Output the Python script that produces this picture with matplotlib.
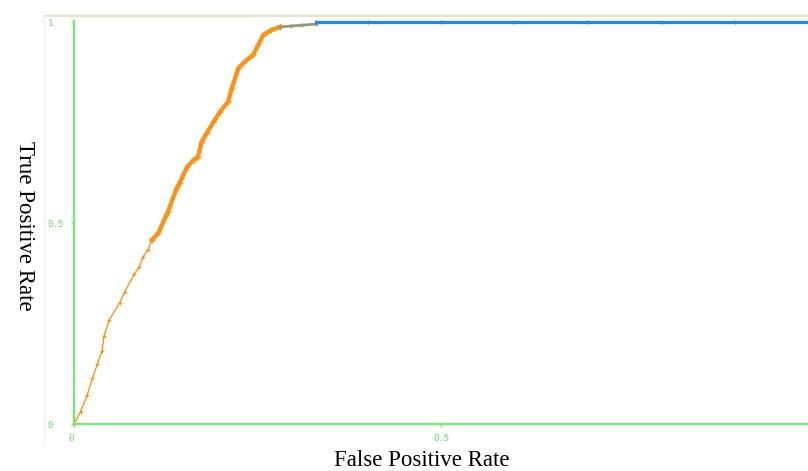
import matplotlib
matplotlib.use("Agg")
import matplotlib.pyplot as plt
from matplotlib.lines import Line2D

# ROC curve, three coloured pieces
fpr_low = [0.000, 0.009, 0.018, 0.025, 0.032, 0.038, 0.041, 0.048, 0.062, 0.069,
           0.082, 0.089, 0.094, 0.101, 0.106]
tpr_low = [0.000, 0.031, 0.072, 0.114, 0.149, 0.182, 0.219, 0.259, 0.301, 0.328,
           0.373, 0.391, 0.416, 0.433, 0.458]

fpr_high = [0.106, 0.115, 0.126, 0.128, 0.140, 0.144, 0.154, 0.163, 0.169, 0.174,
            0.181, 0.190, 0.199, 0.210, 0.215, 0.224, 0.235, 0.244, 0.251, 0.258,
            0.269, 0.281]
tpr_high = [0.458, 0.475, 0.520, 0.528, 0.587, 0.600, 0.639, 0.657, 0.665, 0.702,
            0.724, 0.751, 0.777, 0.802, 0.835, 0.885, 0.905, 0.918, 0.943, 0.968,
            0.980, 0.988]

fpr_mid = [0.281, 0.295, 0.310, 0.330]
tpr_mid = [0.988, 0.990, 0.992, 0.995]

fpr_top = [0.330, 0.40, 0.50, 0.60, 0.70, 0.80, 0.90, 1.00]
tpr_top = [1.000, 1.000, 1.000, 1.000, 1.000, 1.000, 1.000, 1.000]

xtick_vals = [0, 0.5]
xtick_text = ["0", "0.5"]
ytick_vals = [0, 0.5, 1]
ytick_text = ["0", "0.5", "1"]

green = "#6cf06c"
label_green = "#55e055"
orange = "#f7941d"
blue = "#1e8ae6"
grey = "#8f9a80"

W, H = 808, 471
fig = plt.figure(figsize=(W / 100, H / 100), dpi=100)
fig.patch.set_facecolor("white")

# faint outer frame (top and left)
fig.add_artist(Line2D([44 / W, 1], [1 - 16 / H, 1 - 16 / H], color="#e6e2cc", lw=1.5))
fig.add_artist(Line2D([44 / W, 44 / W], [1 - 16 / H, 1 - 445 / H], color="#f2f2f2", lw=1))

ax = fig.add_axes([74 / W, 1 - 424 / H, (W - 74) / W, (424 - 21) / H])
ax.set_xlim(0, 1.0)
ax.set_ylim(0, 1.0025)

ax.plot(fpr_low, tpr_low, color=orange, lw=1, marker="+", ms=3, mew=0.8, clip_on=False)
ax.plot(fpr_high, tpr_high, color=orange, lw=3.2, marker="+", ms=4.5, mew=1, clip_on=False)
ax.plot(fpr_mid, tpr_mid, color=grey, lw=2, marker="+", ms=3, clip_on=False)
ax.plot(fpr_top, tpr_top, color=blue, lw=2.3, marker="|", ms=3, clip_on=False)

for s in ["top", "right"]:
    ax.spines[s].set_visible(False)
for s in ["left", "bottom"]:
    ax.spines[s].set_color(green)
    ax.spines[s].set_linewidth(1.5)

ax.set_xticks(xtick_vals)
ax.set_xticklabels(xtick_text)
ax.set_yticks(ytick_vals)
ax.set_yticklabels(ytick_text)
ax.tick_params(axis="both", colors=green, length=2.5, width=1,
               labelsize=6.5, labelcolor=label_green)
ax.tick_params(axis="x", pad=5)
ax.tick_params(axis="y", pad=16.5)
for lab in ax.get_yticklabels():
    lab.set_family("DejaVu Sans Mono")
    lab.set_ha("left")
for lab in ax.get_xticklabels():
    lab.set_family("DejaVu Sans Mono")
ax.get_xticklabels()[0].set_ha("right")

fig.text(422 / W, 1 - 461 / H, "False Positive Rate", family="Liberation Serif",
         fontsize=16.5, ha="center", va="center")
fig.text(24 / W, 1 - 226 / H, "True Positive Rate", family="Liberation Serif",
         fontsize=16.5, rotation=270, ha="center", va="center")

fig.savefig("out.png", dpi=100, facecolor="white")
